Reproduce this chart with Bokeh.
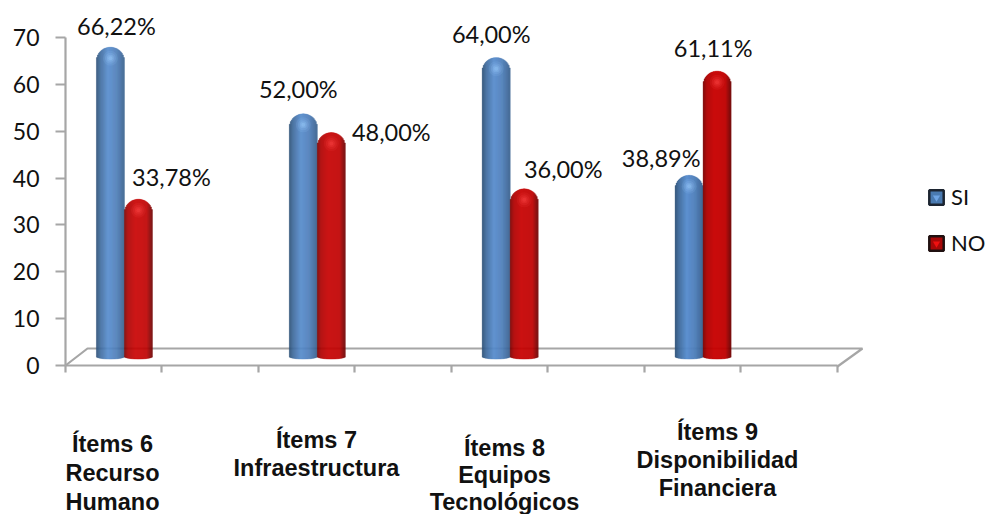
import math
from bokeh.plotting import figure
from bokeh.models import FixedTicker, Legend, LegendItem, ColumnDataSource, Range1d
from bokeh.core.properties import value
from bokeh.embed import file_html
from bokeh.resources import INLINE

# ---- data ----
series_names = ["SI", "NO"]
si_values = [66.22, 52.00, 64.00, 38.89]
no_values = [33.78, 48.00, 36.00, 61.11]
si_labels = ["66,22%", "52,00%", "64,00%", "38,89%"]
no_labels = ["33,78%", "48,00%", "36,00%", "61,11%"]
category_lines = [
    ["Ítems 6", "Recurso", "Humano"],
    ["Ítems 7", "Infraestructura"],
    ["Ítems 8", "Equipos", "Tecnológicos"],
    ["Ítems 9", "Disponibilidad", "Financiera"],
]
y_ticks = [0, 10, 20, 30, 40, 50, 60, 70]

# ---- layout constants (pixels of the 987x514 page) ----
W, H = 987, 514
X0_PX, Y0_PX = 65, 365        # page position of data (0, 0)
PX_X = 96.45                  # pixels per x unit (one tick interval)
PX_Y = 4.686                  # pixels per y unit
GROUP_CENTRES = [0.611, 2.611, 4.611, 6.611]
BAR_PX = 28
BASE = 1.7                    # bars stand on the 3-D floor
GRAY = "#a6a6a6"
FONT = "Lato"

p = figure(width=W, height=H, output_backend="svg", toolbar_location=None,
           min_border=0, outline_line_color=None,
           x_range=Range1d(-X0_PX / PX_X, (W - X0_PX) / PX_X),
           y_range=Range1d(-(H - Y0_PX) / PX_Y, Y0_PX / PX_Y))
p.grid.visible = False

# floor of the 3-D chart
fx = [0, 22 / PX_X, 797 / PX_X, 772 / PX_X]
fy = [0, 17 / PX_Y, 17 / PX_Y, -1 / PX_Y]
p.line(fx, fy, line_color=GRAY, line_width=2.2)

# axes
for ax in (p.xaxis[0], p.yaxis[0]):
    ax.fixed_location = 0
    ax.axis_line_color = GRAY
    ax.axis_line_width = 2.2
    ax.major_tick_line_color = GRAY
    ax.major_tick_line_width = 2.2
    ax.minor_tick_line_color = None
    ax.major_tick_in = 0
p.xaxis[0].ticker = FixedTicker(ticks=list(range(9)))
p.xaxis[0].bounds = (0, 8)
p.xaxis[0].major_tick_out = 7
p.xaxis[0].major_label_overrides = {i: "" for i in range(9)}
p.yaxis[0].ticker = FixedTicker(ticks=y_ticks)
p.yaxis[0].bounds = (0, 70)
p.yaxis[0].major_tick_out = 10
p.yaxis[0].major_label_standoff = 16
p.yaxis[0].major_label_text_font = FONT
p.yaxis[0].major_label_text_font_size = "23px"
p.yaxis[0].major_label_text_color = "#111111"


def mix(stops, t):
    for (t0, c0), (t1, c1) in zip(stops, stops[1:]):
        if t <= t1:
            f = (t - t0) / (t1 - t0)
            return "#%02x%02x%02x" % tuple(round(a + (b - a) * f) for a, b in zip(c0, c1))
    return "#%02x%02x%02x" % stops[-1][1]


BLUE = [(0, (44, 78, 116)), (0.14, (62, 106, 156)), (0.42, (86, 140, 205)),
        (0.72, (78, 126, 186)), (1, (56, 96, 142))]
RED = [(0, (120, 0, 0)), (0.14, (176, 0, 0)), (0.4, (200, 0, 0)),
       (0.8, (192, 0, 0)), (1, (110, 0, 0))]


def draw_series(values, side, stops, hi_color):
    for centre, v in zip(GROUP_CENTRES, values):
        left_px = centre * PX_X + (0 if side > 0 else -BAR_PX)
        l, r, t, b, c = [], [], [], [], []
        for i in range(BAR_PX):
            u = (i + 0.5) / BAR_PX
            d = abs(2 * u - 1)
            cap = (BAR_PX / 2) * (1 - math.sqrt(1 - d * d))
            sag = 2.5 * math.sqrt(1 - d * d)
            l.append((left_px + i) / PX_X)
            r.append((left_px + i + 1) / PX_X)
            t.append(v + BASE - cap / PX_Y)
            b.append(BASE - (sag - 1) / PX_Y)
            c.append(mix(stops, u))
        p.quad(left=l, right=r, top=t, bottom=b, fill_color=c, line_color=c, line_width=0.4)
        hx = (left_px + BAR_PX * 0.5) / PX_X
        hy = v + BASE - 11 / PX_Y
        for size, alpha in [(15, 0.12), (11, 0.16), (7, 0.22), (4, 0.3)]:
            p.scatter([hx], [hy], size=size, fill_color=hi_color, fill_alpha=alpha, line_color=None)


draw_series(si_values, -1, BLUE, "#9fd0ff")
draw_series(no_values, 1, RED, "#ff4a4a")

# value labels: offsets from the middle of the bar's top, in pixels
si_dx = [6, -5, -5, -28]
si_dy = [-21, -25, -24, -17]
no_dx = [33, 60, 39, -4]
no_dy = [-22, -1, -20, -23]


def draw_labels(values, labels, side, dxs, dys):
    src = ColumnDataSource(dict(
        x=[c + side * (BAR_PX / 2) / PX_X for c in GROUP_CENTRES],
        y=[v + BASE for v in values],
        t=labels, dx=dxs, dy=dys))
    p.text("x", "y", text="t", source=src, x_offset="dx", y_offset="dy",
           text_font=value(FONT), text_font_size="23.5px", text_color="#111111",
           text_align="center", text_baseline="middle")


draw_labels(si_values, si_labels, -1, si_dx, si_dy)
draw_labels(no_values, no_labels, 1, no_dx, no_dy)

# category labels, placed by page pixel
cat_cx = [112, 316, 504, 717]
cat_first = [443, 439, 447, 431]
cat_step = [29, 28, 27, 28]
for lines, cx, y0, step in zip(category_lines, cat_cx, cat_first, cat_step):
    xs = [(cx - X0_PX) / PX_X] * len(lines)
    ys = [(Y0_PX - (y0 + k * step)) / PX_Y for k in range(len(lines))]
    p.text(xs, ys, text=lines, text_font=value("Liberation Sans"), text_font_style="bold",
           text_font_size="23.5px", text_color="#111111", text_align="center", text_baseline="middle")

# legend: keys come from renderers that sit outside the visible range
far = dict(left=[100], right=[101], top=[200], bottom=[199])
r_si = p.quad(left="left", right="right", top="top", bottom="bottom", source=ColumnDataSource(far),
              fill_color="#4a7ab0", line_color="#1c2430", line_width=2.5)
r_no = p.quad(left="left", right="right", top="top", bottom="bottom", source=ColumnDataSource(far),
              fill_color="#a80808", line_color="#201010", line_width=2.5)
m_si = p.scatter([100], [200], marker="inverted_triangle", fill_color="#6ea4e4", line_color=None)
m_no = p.scatter([100], [200], marker="inverted_triangle", fill_color="#f01010", line_color=None)
legend = Legend(items=[LegendItem(label=series_names[0], renderers=[r_si, m_si]),
                       LegendItem(label=series_names[1], renderers=[r_no, m_no])],
                location=(927, H - 256), orientation="vertical",
                glyph_width=18, glyph_height=18, label_standoff=6, spacing=19,
                padding=0, margin=0, border_line_color=None, background_fill_alpha=0,
                label_text_font=FONT, label_text_font_size="22px", label_text_color="#111111",
                label_height=17)
p.add_layout(legend, "center")

open("out.html", "w").write(file_html(p, INLINE))
